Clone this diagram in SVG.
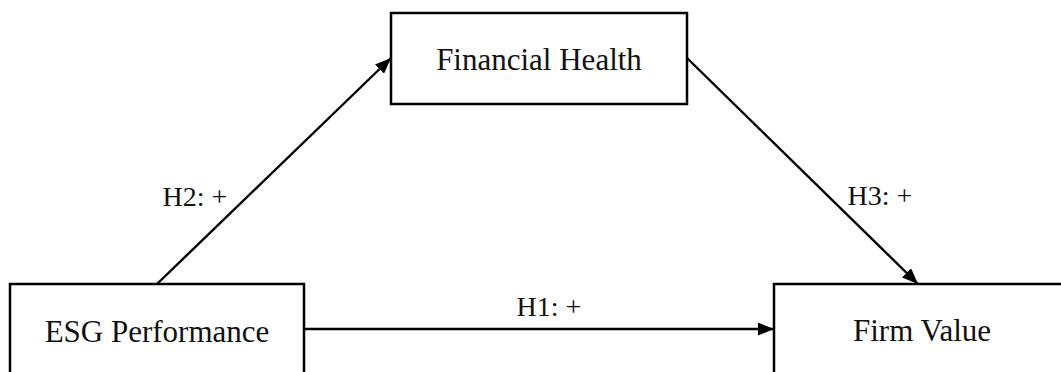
<svg xmlns="http://www.w3.org/2000/svg" width="1061" height="372" viewBox="0 0 1061 372">
<style>
.box{fill:#fff;stroke:#000;stroke-width:2.5}
.lbl{font-family:"Liberation Serif","Times New Roman",serif;font-size:31px;fill:#111;text-anchor:middle}
.hl{font-family:"Liberation Serif","Times New Roman",serif;font-size:28px;fill:#111;text-anchor:middle}
.conn{stroke:#000;stroke-width:2.4;fill:none}
</style>
<defs>
<marker id="arr" markerUnits="userSpaceOnUse" markerWidth="16" markerHeight="13" refX="16" refY="6.5" orient="auto">
<path d="M0,0 L16,6.5 L0,13 z" fill="#000"/>
</marker>
</defs>
<rect width="1061" height="372" fill="#fff"/>
<g id="connectors">
<line class="conn" x1="157" y1="284" x2="391" y2="58" marker-end="url(#arr)"/>
<line class="conn" x1="687" y1="58" x2="918" y2="284" marker-end="url(#arr)"/>
<line class="conn" x1="304" y1="329" x2="774" y2="329" marker-end="url(#arr)"/>
<text class="hl" x="195" y="206">H2: +</text>
<text class="hl" x="880" y="205">H3: +</text>
<text class="hl" x="549" y="316">H1: +</text>
</g>
<g id="financial-health">
<rect class="box" x="391" y="13" width="296" height="91"/>
<text class="lbl" x="539" y="70">Financial Health</text>
</g>
<g id="esg-performance">
<rect class="box" x="10" y="284" width="294" height="110"/>
<text class="lbl" x="157" y="342">ESG Performance</text>
</g>
<g id="firm-value">
<rect class="box" x="774" y="284" width="300" height="110"/>
<text class="lbl" x="922" y="341">Firm Value</text>
</g>
</svg>
